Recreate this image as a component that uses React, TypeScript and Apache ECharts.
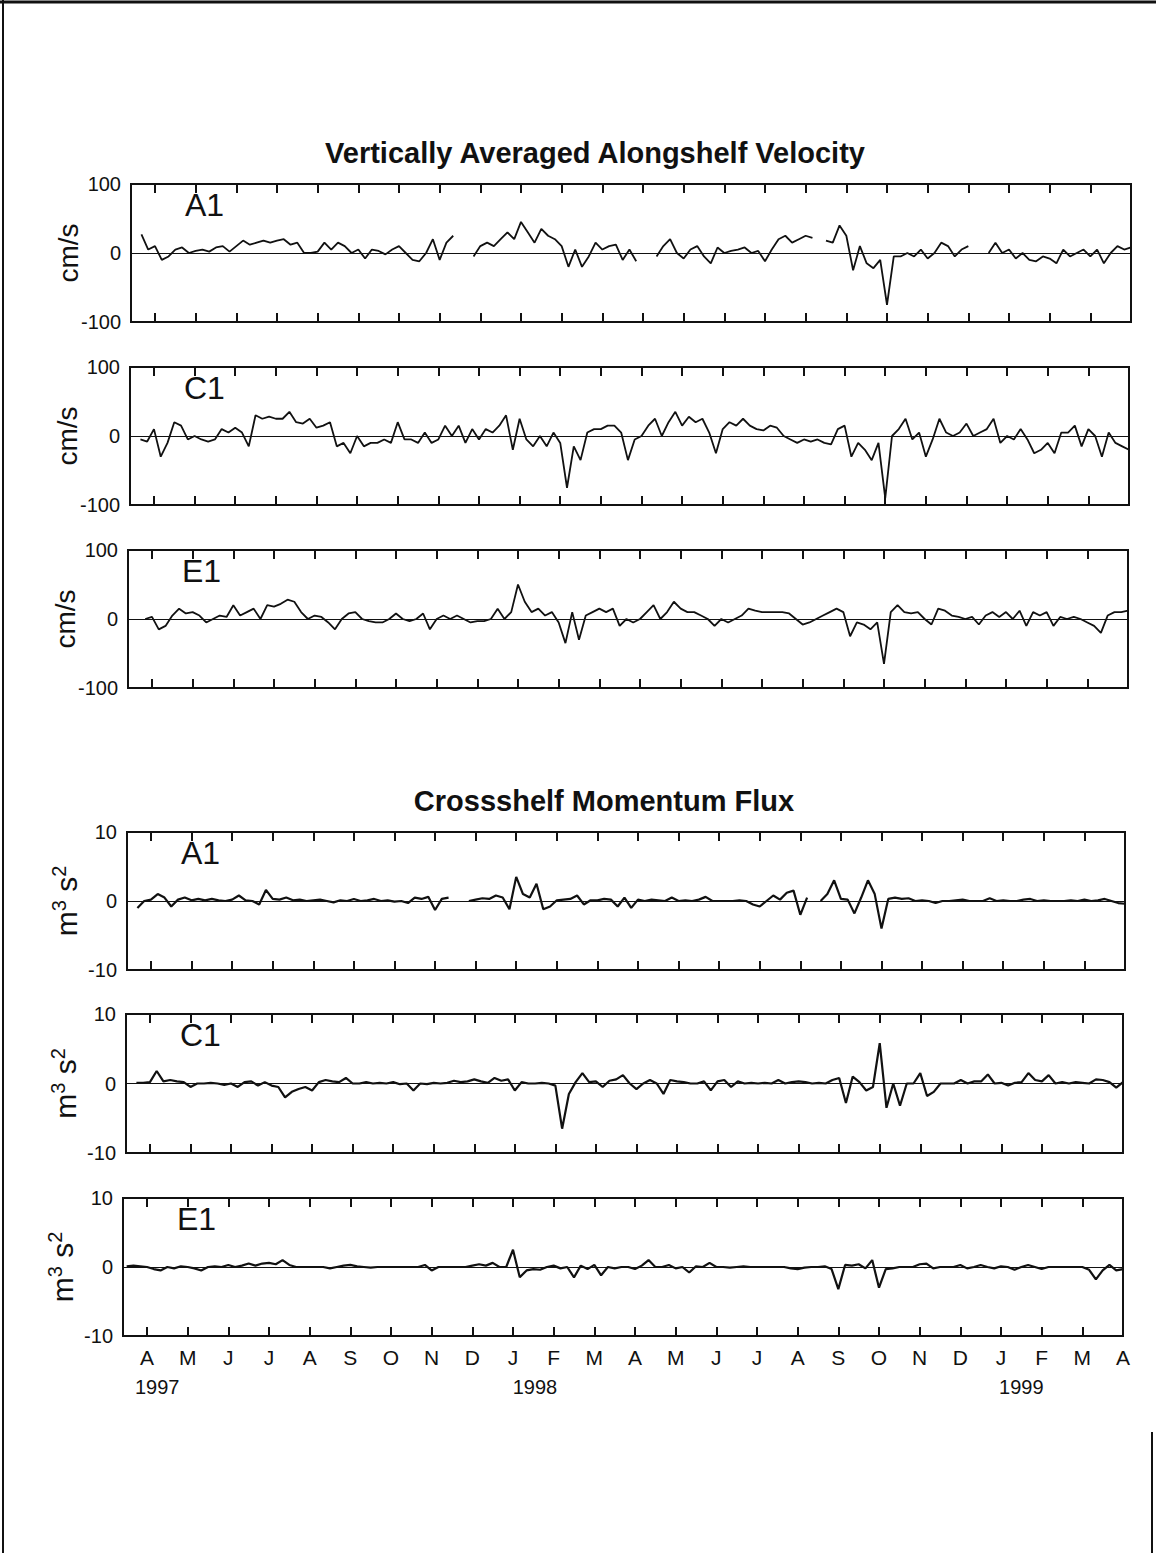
import React, { useEffect, useRef } from "react";
import * as echarts from "echarts";

// ---------- axis labels ----------
const MONTH_LABELS = ["A","M","J","J","A","S","O","N","D","J","F","M","A","M","J","J","A","S","O","N","D","J","F","M","A"];
const MONTH_TICKS = MONTH_LABELS.map((_, i) => i); // month index, 0 = 1 Apr 1997
const YEAR_LABELS = ["1997", "1998", "1999"];
const YEAR_POS = [0.25, 9.54, 21.5];
const X_MIN = -0.59;
const X_MAX = 24;
// samples every 1/6 month starting at month index -0.5
const SAMPLE_START = -0.5;
const SAMPLE_STEP = 1 / 6;

const TITLE_VEL = "Vertically Averaged Alongshelf Velocity";
const TITLE_FLUX = "Crossshelf Momentum Flux";
const PANEL_NAMES = ["A1", "C1", "E1", "A1", "C1", "E1"];

// ---------- data (cm/s) ----------
const velA1 = [
  null, 27, 5, 10, -10, -5, 5, 8, 0, 3, 5, 2,
  8, 10, 2, 10, 18, 12, 15, 18, 15, 18, 20, 12,
  15, 0, 0, 2, 15, 5, 15, 10, 0, 5, -8, 5,
  3, -2, 5, 10, 0, -10, -12, 0, 20, -10, 15, 25,
  null, null, -5, 10, 15, 10, 20, 30, 20, 45, 30, 15,
  35, 25, 20, 10, -20, 5, -20, -5, 15, 5, 10, 12,
  -10, 5, -12, null, null, -5, 10, 20, 0, -8, 5, 10,
  -5, -15, 8, 0, 3, 5, 8, 0, 3, -12, 5, 20,
  25, 15, 20, 25, 22, null, 18, 15, 40, 25, -25, 10,
  -15, -22, -10, -75, -5, -5, 0, -5, 5, -8, 0, 15,
  10, -5, 5, 10, null, null, 0, 15, 0, 5, -8, 0,
  -10, -12, -5, -8, -15, 5, -5, 0, 5, -5, 5, -15,
  0, 10, 5, 8,
];
const velC1 = [
  null, -5, -8, 10, -30, -10, 20, 15, -5, 0, -5, -8,
  -5, 10, 5, 12, 5, -15, 30, 25, 28, 25, 25, 35,
  20, 18, 25, 12, 15, 20, -15, -10, -25, 0, -15, -10,
  -10, -5, -10, 20, -5, -5, -10, 5, -10, -5, 15, 0,
  15, -10, 10, -5, 10, 5, 15, 30, -20, 25, -5, -15,
  0, -15, 5, -10, -75, -15, -35, 5, 10, 10, 15, 15,
  5, -35, -5, 0, 15, 25, 0, 20, 35, 15, 28, 20,
  25, 5, -25, 10, 20, 15, 25, 15, 10, 8, 15, 12,
  0, -5, -10, -5, -8, -5, -10, -12, 10, 15, -30, -10,
  -20, -35, -10, -90, 0, 10, 25, -5, 5, -30, -5, 25,
  5, 0, 5, 18, 0, 5, 10, 25, -10, 0, -5, 10,
  -5, -25, -20, -10, -25, 5, 5, 15, -15, 10, 0, -30,
  5, -10, -15, -20,
];
const velE1 = [
  null, null, 0, 3, -15, -10, 5, 15, 8, 10, 5, -5,
  0, 5, 3, 20, 5, 10, 15, 0, 20, 18, 22, 28,
  25, 10, 0, 5, 3, -5, -15, 0, 8, 10, 0, -3,
  -5, -5, 0, 8, 0, -3, 0, 8, -15, 0, 5, 0,
  5, 0, -5, -3, -3, 0, 15, 0, 10, 50, 25, 10,
  15, 5, 10, -5, -35, 10, -30, 5, 10, 15, 10, 15,
  -10, 0, -5, 0, 10, 20, 0, 10, 25, 15, 10, 10,
  5, 0, -10, 0, -5, 0, 5, 15, 12, 10, 10, 10,
  10, 8, 0, -8, -5, 0, 5, 10, 15, 10, -25, -5,
  -8, -15, -5, -65, 10, 20, 10, 8, 10, 0, -8, 15,
  12, 5, 3, 0, 3, -8, 5, 10, 3, 10, 0, 12,
  -10, 10, 5, 10, -10, 3, 0, 3, 0, -5, -10, -20,
  5, 10, 10, 12,
];

// ---------- data (m^3 s^-2) ----------
const fluxA1 = [
  null, -1, 0, 0.2, 1.0, 0.5, -0.8, 0.2, 0.5, 0.1, 0.3, 0.1,
  0.3, 0.1, 0, 0.2, 0.8, 0.1, 0, -0.5, 1.6, 0.3, 0.2, 0.5,
  0.1, 0.2, 0, 0.1, 0.2, 0, -0.2, 0.1, 0, 0.3, 0, 0.1,
  0.3, 0, 0.1, -0.1, 0, -0.3, 0.5, 0.3, 0.6, -1.3, 0.3, 0.5,
  null, null, 0, 0.2, 0.4, 0.3, 0.8, 0.5, -1.2, 3.5, 1.0, 0.5,
  2.5, -1.2, -0.8, 0.1, 0.2, 0.3, 0.8, -0.5, 0.1, 0.1, 0.3, 0.2,
  -0.8, 0.5, -1.0, 0.2, 0, 0.2, 0.1, 0, 0.5, 0, 0.1, 0,
  0.2, 0.6, 0, 0, 0, 0, 0.1, 0, -0.5, -0.8, 0, 0.8,
  0.2, 1.2, 1.5, -2.0, 0.5, null, 0, 1.0, 3.0, 0.3, 0.2, -1.8,
  0.5, 3.0, 1.0, -4.0, 0.3, 0.5, 0.3, 0.4, 0, 0.1, 0, -0.3,
  0, 0, 0.1, 0.2, 0, 0, 0, 0.4, 0, 0.1, 0, 0,
  0.2, 0.3, 0, 0.1, 0, 0, 0, 0.1, 0, 0.2, 0, 0.1,
  0.3, 0, -0.3, -0.4,
];
const fluxC1 = [
  null, 0.1, 0.1, 0.2, 1.8, 0.3, 0.5, 0.3, 0.2, -0.5, 0, 0,
  0.1, 0, -0.2, 0, -0.5, 0.2, 0.3, -0.3, 0.2, -0.3, -0.5, -2.0,
  -1.2, -0.8, -0.5, -1.0, 0.2, 0.5, 0.3, 0.2, 0.8, 0, 0, 0.2,
  0, 0.1, 0, 0.2, -0.1, 0, -1.0, 0, -0.1, 0.1, 0, 0.1,
  0.4, 0.2, 0.3, 0.6, 0.3, 0.1, 0.8, 0.4, 0.6, -1.0, 0.2, 0,
  0, 0.1, 0, -0.3, -6.5, -1.5, 0.2, 1.5, 0.2, 0.3, -0.5, 0.4,
  0.6, 1.2, 0, -0.8, 0, 0.5, 0, -1.5, 0.5, 0.3, 0.2, 0,
  0, 0.3, -1.0, 0.3, 0.5, -0.5, 0.3, 0, 0.1, 0, 0.1, 0,
  0.5, 0, 0.2, 0.3, 0.2, 0, 0.1, 0, 0.5, 0.8, -2.8, 1.0,
  0.2, -1.0, -0.5, 5.8, -3.5, 0, -3.2, 0, 0, 1.5, -1.8, -1.2,
  0, 0, 0, 0.5, 0, 0.3, 0.3, 1.3, 0, 0.1, -0.3, 0.1,
  0.2, 1.5, 0.5, 0.3, 1.2, 0, 0.2, 0, 0.2, 0.1, 0, 0.6,
  0.5, 0.2, -0.6, 0.2,
];
const fluxE1 = [
  0.1, 0.2, 0.1, 0, -0.3, -0.5, 0, -0.2, 0.1, 0, -0.2, -0.5,
  0, 0.1, 0, 0.3, 0, 0.2, 0.5, 0.2, 0.5, 0.6, 0.4, 1.0,
  0.3, 0, 0, 0, 0, 0, -0.2, 0, 0.2, 0.3, 0.1, 0,
  -0.1, 0, 0, 0, 0, 0, 0, 0, 0.3, -0.5, 0, 0,
  0, 0, 0, 0.2, 0.4, 0.2, 0.6, 0, 0, 2.5, -1.5, -0.5,
  -0.3, -0.4, 0, 0.2, -0.2, 0, -1.5, 0.2, -0.3, 0.3, -1.2, 0,
  -0.2, 0, 0, -0.3, 0.2, 1.0, 0, 0, 0.3, -0.2, 0, -0.8,
  0.1, 0, 0.6, 0, 0, -0.1, 0, 0.1, 0, 0, 0, 0,
  0, 0, -0.2, -0.3, -0.1, 0, 0, 0.1, -0.3, -3.2, 0.3, 0.2,
  0.4, -0.2, 1.0, -3.0, -0.3, -0.2, 0, 0, 0, 0.4, 0.5, -0.2,
  0, 0, 0, 0.3, -0.2, 0, 0.3, 0, -0.2, 0.1, 0, -0.4,
  0, 0.3, 0, -0.3, 0, 0, 0, 0, 0, 0, -0.4, -1.8,
  -0.5, 0.3, -0.5, -0.3,
];

const SERIES_VALUES = [velA1, velC1, velE1, fluxA1, fluxC1, fluxE1];

// ---------- layout (pixels) ----------
const PANELS = [
  { left: 131, right: 1131, top: 184, height: 138, kind: "vel" },
  { left: 130, right: 1129, top: 367, height: 138, kind: "vel" },
  { left: 128, right: 1128, top: 550, height: 138, kind: "vel" },
  { left: 127, right: 1125, top: 832, height: 138, kind: "flux" },
  { left: 126, right: 1123, top: 1014, height: 139, kind: "flux" },
  { left: 123, right: 1123, top: 1198, height: 138, kind: "flux" },
];

const FONT = "'Liberation Sans', Arial, Helvetica, sans-serif";
const INK = "#111";

function toPairs(vals: (number | null)[]) {
  return vals.map((v, i) => [SAMPLE_START + i * SAMPLE_STEP, v === null ? "-" : v]);
}

function buildOption() {
  const grids: any[] = [];
  const xAxes: any[] = [];
  const yAxes: any[] = [];
  const series: any[] = [];
  const graphics: any[] = [];

  PANELS.forEach((p, k) => {
    const isVel = p.kind === "vel";
    const last = k === PANELS.length - 1;
    grids.push({
      left: p.left,
      top: p.top,
      width: p.right - p.left,
      height: p.height,
      show: true,
      borderColor: INK,
      borderWidth: 2,
      backgroundColor: "transparent",
      containLabel: false,
    });

    const tickStyle = { show: true, inside: true, length: 9, customValues: MONTH_TICKS, lineStyle: { color: INK, width: 2 } };
    const bottomIdx = xAxes.length;
    xAxes.push({
      type: "value",
      gridIndex: k,
      min: X_MIN,
      max: X_MAX,
      position: "bottom",
      axisLine: { show: false, onZero: false },
      splitLine: { show: false },
      axisTick: tickStyle,
      axisLabel: last
        ? {
            show: true,
            customValues: MONTH_TICKS,
            formatter: (v: number) => MONTH_LABELS[Math.round(v)] ?? "",
            fontSize: 21,
            fontFamily: FONT,
            color: INK,
            margin: 11,
          }
        : { show: false },
    });
    xAxes.push({
      type: "value",
      gridIndex: k,
      min: X_MIN,
      max: X_MAX,
      position: "top",
      axisLine: { show: false, onZero: false },
      splitLine: { show: false },
      axisTick: tickStyle,
      axisLabel: { show: false },
    });
    if (last) {
      xAxes.push({
        type: "value",
        gridIndex: k,
        min: X_MIN,
        max: X_MAX,
        position: "bottom",
        offset: 0,
        axisLine: { show: false, onZero: false },
        splitLine: { show: false },
        axisTick: { show: false },
        axisLabel: {
          show: true,
          customValues: YEAR_POS,
          formatter: (v: number) => YEAR_LABELS[YEAR_POS.indexOf(v)] ?? "",
          fontSize: 20,
          fontFamily: FONT,
          color: INK,
          margin: 41,
        },
      });
    }

    const lim = isVel ? 100 : 10;
    yAxes.push({
      type: "value",
      gridIndex: k,
      min: -lim,
      max: lim,
      interval: lim,
      axisLine: { show: false, onZero: false },
      axisTick: { show: false },
      splitLine: { show: false },
      axisLabel: { fontSize: 20, fontFamily: FONT, color: INK, margin: 10 },
      name: isVel ? "cm/s" : "m{sup|3} s{sup|2}",
      nameLocation: "middle",
      nameGap: isVel ? 49 : 44,
      nameMoveOverlap: false,
      nameTextStyle: {
        fontSize: isVel ? 28 : 30,
        fontFamily: FONT,
        color: INK,
        rich: { sup: { fontSize: 20, fontFamily: FONT, color: INK, padding: [0, 0, 14, 0] } },
      },
    });

    series.push({
      type: "line",
      xAxisIndex: bottomIdx,
      yAxisIndex: k,
      data: toPairs(SERIES_VALUES[k]),
      showSymbol: false,
      symbol: "none",
      connectNulls: false,
      lineStyle: { color: INK, width: isVel ? 1.8 : 2.2 },
      markLine: {
        silent: true,
        symbol: "none",
        label: { show: false },
        lineStyle: { color: INK, width: 1, type: "solid" },
        data: [{ yAxis: 0 }],
      },
      z: 3,
    });

    graphics.push({
      type: "text",
      x: p.left + 54,
      y: p.top + 21,
      style: { text: PANEL_NAMES[k], font: `32px ${FONT}`, fill: INK, textAlign: "left", textVerticalAlign: "middle" },
    });
  });

  graphics.push(
    {
      type: "text",
      x: 595,
      y: 153,
      style: { text: TITLE_VEL, font: `bold 29px ${FONT}`, fill: INK, textAlign: "center", textVerticalAlign: "middle" },
    },
    {
      type: "text",
      x: 604,
      y: 801,
      style: { text: TITLE_FLUX, font: `bold 29px ${FONT}`, fill: INK, textAlign: "center", textVerticalAlign: "middle" },
    },
    { type: "line", shape: { x1: 0, y1: 2, x2: 1156, y2: 2 }, style: { stroke: INK, lineWidth: 3 } },
    { type: "line", shape: { x1: 3, y1: 0, x2: 3, y2: 1553 }, style: { stroke: INK, lineWidth: 2 } },
    { type: "line", shape: { x1: 1152, y1: 1432, x2: 1152, y2: 1553 }, style: { stroke: INK, lineWidth: 2 } }
  );

  return {
    animation: false,
    backgroundColor: "#fff",
    grid: grids,
    xAxis: xAxes,
    yAxis: yAxes,
    series,
    graphic: graphics,
  };
}

export default function App() {
  const ref = useRef<HTMLDivElement>(null);
  useEffect(() => {
    document.body.style.margin = "0";
    if (!ref.current) return;
    const chart = echarts.init(ref.current, null, { renderer: "svg" });
    chart.setOption(buildOption() as any);
    return () => chart.dispose();
  }, []);
  return <div ref={ref} style={{ width: 1156, height: 1553 }} />;
}
